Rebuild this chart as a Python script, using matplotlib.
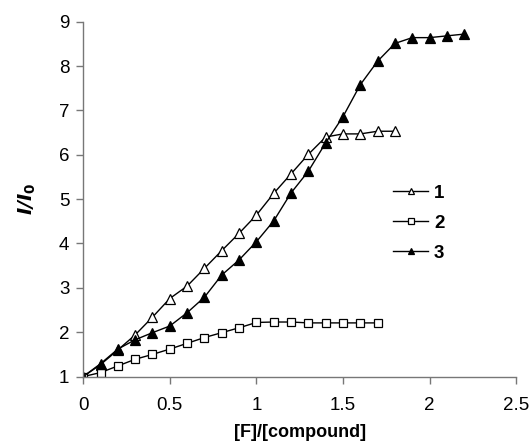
import matplotlib
matplotlib.use("Agg")
import matplotlib.pyplot as plt

plt.rcParams['font.family'] = ['Liberation Sans', 'DejaVu Sans']

# ratio [F]/[compound]
x1 = [0, 0.1, 0.2, 0.3, 0.4, 0.5, 0.6, 0.7, 0.8, 0.9, 1.0, 1.1, 1.2, 1.3, 1.4, 1.5, 1.6, 1.7, 1.8]
y1 = [1.0, 1.27, 1.6, 1.94, 2.34, 2.76, 3.04, 3.44, 3.84, 4.23, 4.64, 5.13, 5.57, 6.01, 6.4, 6.47, 6.47, 6.53, 6.53]

x2 = [0, 0.1, 0.2, 0.3, 0.4, 0.5, 0.6, 0.7, 0.8, 0.9, 1.0, 1.1, 1.2, 1.3, 1.4, 1.5, 1.6, 1.7]
y2 = [1.0, 1.09, 1.24, 1.39, 1.5, 1.62, 1.75, 1.88, 1.99, 2.1, 2.22, 2.23, 2.23, 2.21, 2.21, 2.21, 2.21, 2.21]

x3 = [0, 0.1, 0.2, 0.3, 0.4, 0.5, 0.6, 0.7, 0.8, 0.9, 1.0, 1.1, 1.2, 1.3, 1.4, 1.5, 1.6, 1.7, 1.8, 1.9, 2.0, 2.1, 2.2]
y3 = [1.0, 1.29, 1.62, 1.83, 1.99, 2.14, 2.44, 2.79, 3.29, 3.63, 4.04, 4.51, 5.14, 5.63, 6.27, 6.86, 7.58, 8.11, 8.51, 8.64, 8.64, 8.68, 8.72]

labels = ['1', '2', '3']

fig = plt.figure(figsize=(5.3, 4.42), dpi=100)
ax = fig.add_axes([0.157, 0.148, 0.817, 0.803])

ms = 6.5
ax.plot(x1, y1, '-', color='black', lw=1, marker='^', ms=ms, mfc='white', mec='black', mew=0.9, label=labels[0])
ax.plot(x2, y2, '-', color='black', lw=1, marker='s', ms=ms - 1, mfc='white', mec='black', mew=0.9, label=labels[1])
ax.plot(x3, y3, '-', color='black', lw=1, marker='^', ms=ms, mfc='black', mec='black', mew=0.9, label=labels[2])

ax.set_xlim(0, 2.5)
ax.set_ylim(1, 9)
ax.set_xticks([0, 0.5, 1, 1.5, 2, 2.5])
ax.set_xticklabels(['0', '0.5', '1', '1.5', '2', '2.5'])
ax.set_yticks(range(1, 10))

for s in ['top', 'right']:
    ax.spines[s].set_visible(False)
for s in ['left', 'bottom']:
    ax.spines[s].set_color('#777777')
    ax.spines[s].set_linewidth(1)
ax.tick_params(direction='out', length=5, width=1, color='#777777', labelsize=13.5)
ax.tick_params(axis='x', pad=10)
ax.tick_params(axis='y', pad=5)

ax.set_xlabel('[F]/[compound]', fontsize=13, fontweight='bold', labelpad=7)
ax.set_ylabel(r'$\mathbfit{I/I}_{\mathbf{0}}$', fontsize=14, labelpad=15)

leg = ax.legend(loc='upper left', bbox_to_anchor=(0.715, 0.54), frameon=False,
                borderpad=0, borderaxespad=0,
                handlelength=1.9, handletextpad=0.3, labelspacing=0.68,
                markerscale=0.7, prop={'weight': 'bold', 'size': 13.5})

fig.savefig('out.png', dpi=100)
